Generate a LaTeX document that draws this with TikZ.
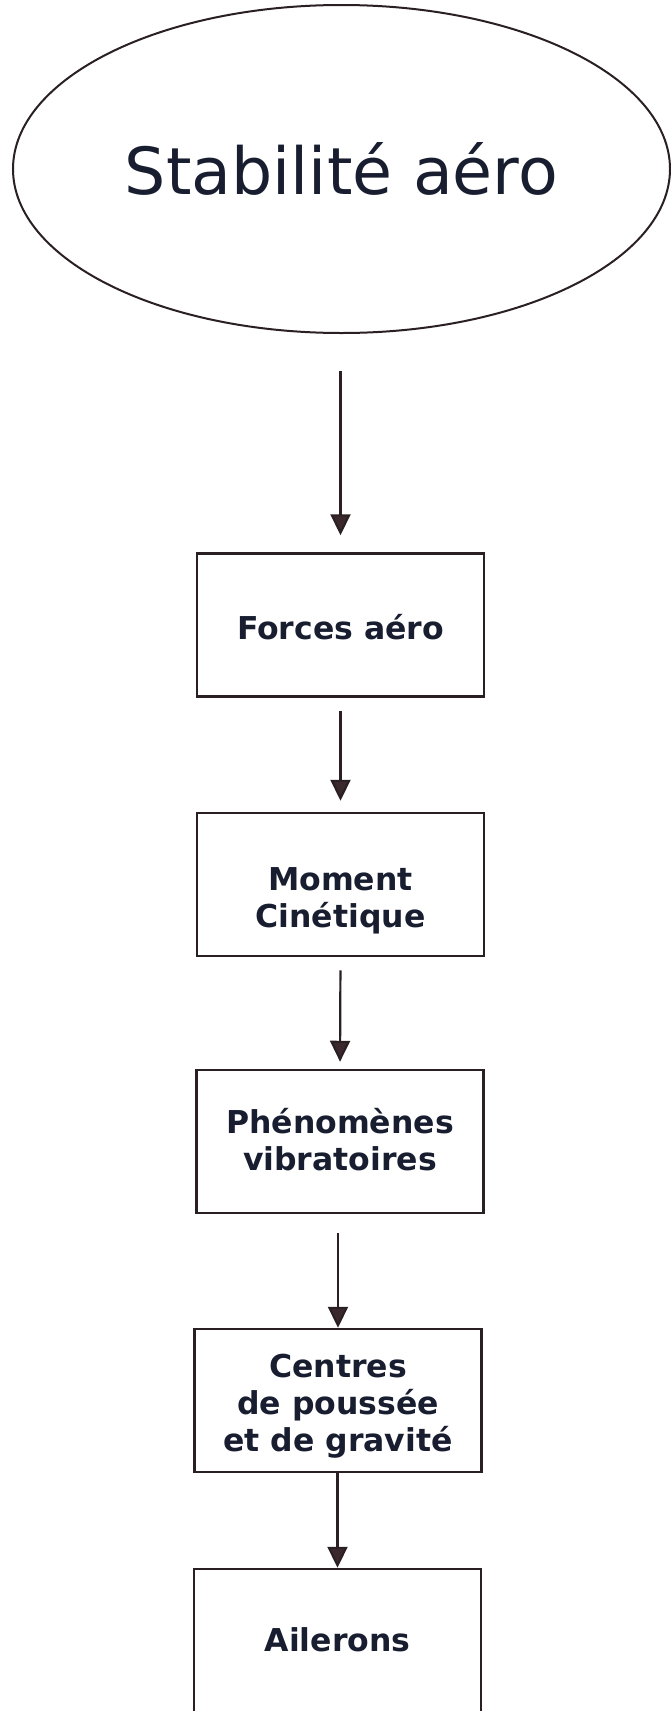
\documentclass[tikz,border=0pt]{standalone}
\usepackage{fontspec}
\setmainfont{DejaVu Sans}
\usetikzlibrary{shapes.geometric,arrows.meta}
\definecolor{linec}{RGB}{42,32,36}
\definecolor{txtc}{RGB}{24,30,48}
\definecolor{tipc}{RGB}{58,40,44}
\tikzset{
  boxnode/.style={draw=linec, line width=2.5pt, minimum width=287pt, minimum height=143pt, inner sep=0pt},
  lbl/.style={font=\bfseries\fontsize{31.5}{37}\selectfont, text=txtc, align=center},
  arr/.style={draw=linec, line width=2.2pt, -{Triangle[width=20pt,length=21pt,fill=tipc]}}
}
\begin{document}
\begin{tikzpicture}[x=1pt,y=-1pt]
\useasboundingbox (0,0) rectangle (671,1711);
\node[draw=linec, line width=2pt, ellipse, minimum width=657pt, minimum height=328pt, inner sep=0pt,
      font=\fontsize{65}{70}\selectfont, text=txtc] (e) at (341.5,169) {Stabilité aéro};
\node[boxnode] (b1) at (340.5,625) {};
\node[lbl] (t1) at (340.5,627) {Forces aéro};
\node[boxnode] (b2) at (340.5,884.5) {};
\node[lbl] (t2) at (340.5,901) {Moment\\Cinétique};
\node[boxnode] (b3) at (340,1141.5) {};
\node[lbl] (t3) at (340,1140) {Phénomènes\\vibratoires};
\node[boxnode] (b4) at (338,1400.5) {};
\node[lbl] (t4) at (338,1406) {Centres\\de poussée\\et de gravité};
\node[boxnode] (b5) at (337.5,1640.5) {};
\node[lbl] (t5) at (337.5,1640) {Ailerons};
\draw[arr, shorten <=37pt, shorten >=17pt] (b1.north |- e.south) -- (b1.north);
\draw[arr, shorten <=13pt, shorten >=11pt] (b1.south) -- (b2.north);
\draw[arr, shorten <=13pt, shorten >=7pt] (b2.south) -- (b3.north);
\draw[arr, shorten <=19pt] (b4.north |- b3.south) -- (b4.north);
\draw[arr] (b5.north |- b4.south) -- (b5.north);
\end{tikzpicture}
\end{document}
